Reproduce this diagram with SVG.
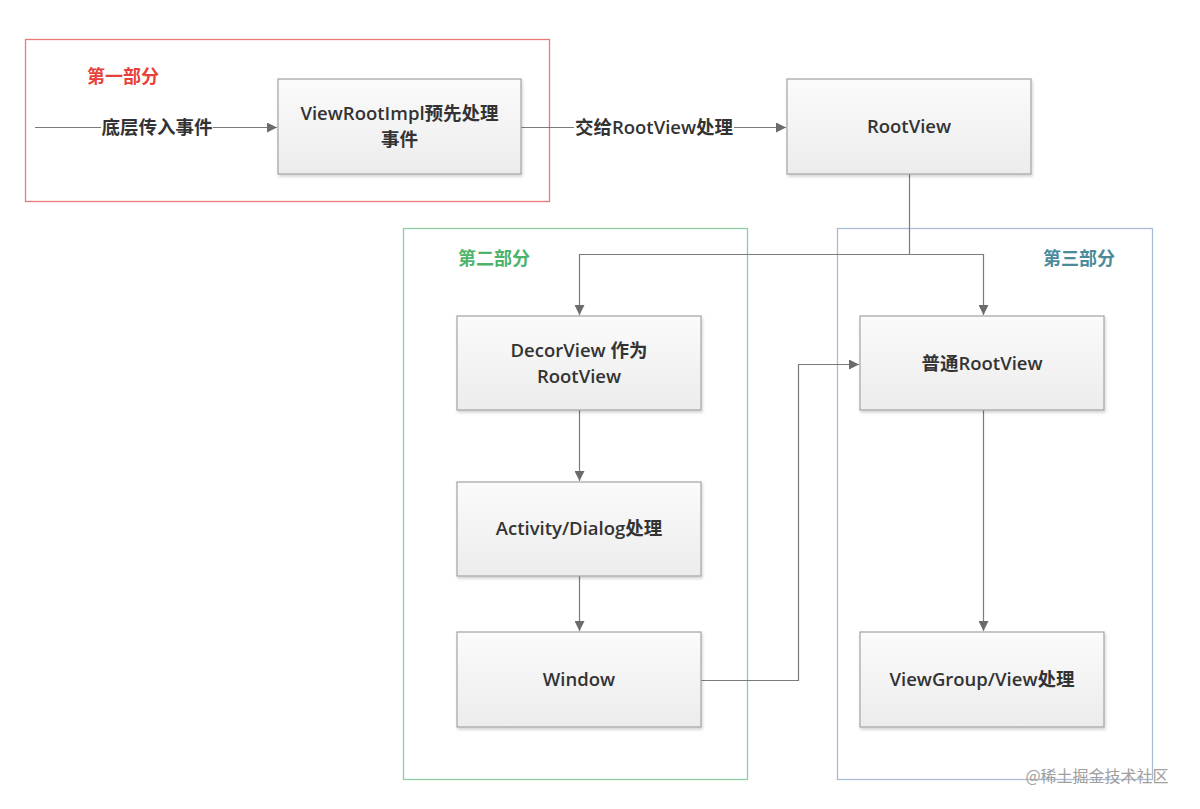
<svg xmlns="http://www.w3.org/2000/svg" width="1200" height="809" viewBox="0 0 1200 809">
<defs>
<linearGradient id="g" x1="0" y1="0" x2="0" y2="1"><stop offset="0" stop-color="#fbfbfb"/><stop offset="1" stop-color="#ececec"/></linearGradient>
<filter id="sh" x="-5%" y="-5%" width="115%" height="120%"><feDropShadow dx="1" dy="2" stdDeviation="1.5" flood-color="#000" flood-opacity="0.18"/></filter>
<marker id="a" viewBox="0 0 10 10" refX="10" refY="5" markerWidth="10" markerHeight="10" markerUnits="userSpaceOnUse" orient="auto"><path d="M0,0 L10,5 L0,10 z" fill="#6b6b6b"/></marker>
</defs>
<style>
.n{fill:url(#g);stroke:#a3a3a3;stroke-width:1.2;filter:url(#sh)}
.t{font-family:"Open Sans","Noto Sans","Noto Sans CJK SC",sans-serif;font-size:18.5px;font-weight:600;fill:#333;text-anchor:middle}
.c{fill:none;stroke:#7a7a7a;stroke-width:1.2}
.ca{fill:none;stroke:#7a7a7a;stroke-width:1.2;marker-end:url(#a)}
.grp{fill:none;stroke-width:1.3}
.gl{font-family:"Noto Sans CJK SC",sans-serif;font-size:18px;font-weight:600}
</style>
<rect width="1200" height="809" fill="#fff"/>
<g id="part1"><rect class="grp" x="25.5" y="39.5" width="524" height="162" stroke="#ea7a7a"/><text class="gl" x="123" y="83" fill="#e8403a" text-anchor="middle">第一部分</text></g>
<g id="part2"><rect class="grp" x="403.5" y="228.5" width="344" height="551" stroke="#8fd0a0"/><text class="gl" x="494" y="265" fill="#4cb36a" text-anchor="middle">第二部分</text></g>
<g id="part3"><rect class="grp" x="837.5" y="228.5" width="315" height="551" stroke="#a8bcd4"/><text class="gl" x="1079" y="265" fill="#4a8a9a" text-anchor="middle">第三部分</text></g>
<g id="connectors">
<path class="ca" d="M35,127.5 H277"/>
<rect x="101" y="116" width="112" height="24" fill="#fff"/>
<text class="t" x="157" y="134">底层传入事件</text>
<path class="ca" d="M521,127.5 H786"/>
<rect x="574" y="116" width="160" height="24" fill="#fff"/>
<text class="t" x="654" y="134">交给RootView处理</text>
<path class="c" d="M909.5,174 V254.5"/>
<path class="ca" d="M909.5,254.5 H579.5 V315"/>
<path class="ca" d="M909.5,254.5 H983.5 V315"/>
<path class="ca" d="M579.5,410 V481"/>
<path class="ca" d="M579.5,576 V631"/>
<path class="ca" d="M701,680.5 H798.5 V364.5 H859"/>
<path class="ca" d="M983.5,410 V631"/>
</g>
<g id="n1"><rect class="n" x="278" y="79" width="243" height="95"/><text class="t" x="399.5" y="120">ViewRootImpl预先处理</text><text class="t" x="399.5" y="146">事件</text></g>
<g id="n2"><rect class="n" x="787" y="79" width="244" height="95"/><text class="t" x="909" y="133">RootView</text></g>
<g id="n3"><rect class="n" x="457" y="316" width="244" height="94"/><text class="t" x="579" y="357">DecorView 作为</text><text class="t" x="579" y="383">RootView</text></g>
<g id="n4"><rect class="n" x="457" y="482" width="244" height="94"/><text class="t" x="579" y="535">Activity/Dialog处理</text></g>
<g id="n5"><rect class="n" x="457" y="632" width="244" height="95"/><text class="t" x="579" y="686">Window</text></g>
<g id="n6"><rect class="n" x="860" y="316" width="244" height="94"/><text class="t" x="982" y="370">普通RootView</text></g>
<g id="n7"><rect class="n" x="860" y="632" width="244" height="95"/><text class="t" x="982" y="686">ViewGroup/View处理</text></g>
<text x="1097" y="782" font-family="Noto Sans CJK SC,sans-serif" font-size="16" fill="#a0a0a0" text-anchor="middle">@稀土掘金技术社区</text>
</svg>
